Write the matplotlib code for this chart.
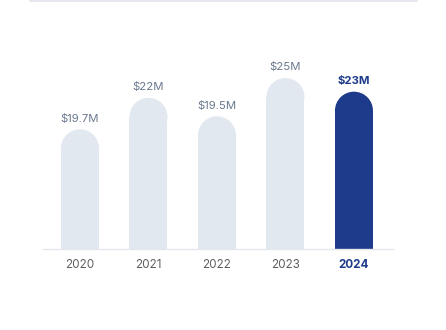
"""Revenue by year: rounded-top bar chart, last year highlighted."""

import matplotlib
matplotlib.use("Agg")
import matplotlib.pyplot as plt
from matplotlib.lines import Line2D
from matplotlib.patches import Ellipse

years = ["2020", "2021", "2022", "2023", "2024"]
# bar heights as drawn (M USD) and the labels printed above them
values = [17.5, 22.1, 19.4, 25.0, 23.0]
value_labels = ["$19.7M", "$22M", "$19.5M", "$25M", "$23M"]

LIGHT = "#e2e8f0"
NAVY = "#1e3a8a"
LABEL_GRAY = "#6b7a8f"
YEAR_GRAY = "#5f5f5f"

plt.rcParams["font.family"] = ["Inter", "DejaVu Sans"]

W, H, DPI = 446, 330, 100
fig = plt.figure(figsize=(W / DPI, H / DPI), dpi=DPI)

# axes in pixels: baseline at y=249 (from top), x from 43 to 393
left_px, right_px = 43, 393
base_px, top_px = 249, 30
ax = fig.add_axes([left_px / W, (H - base_px) / H,
                   (right_px - left_px) / W, (base_px - top_px) / H])

px_per_unit = 6.84  # pixels per $1M
ax.set_xlim(-0.54, 4.57)
ax.set_ylim(0, (base_px - top_px) / px_per_unit)

bar_w = 0.555
x_px_per_unit = (right_px - left_px) / (4.57 + 0.54)
r_units = (bar_w * x_px_per_unit / 2) / px_per_unit

colors = [LIGHT] * (len(years) - 1) + [NAVY]
for i, (v, c) in enumerate(zip(values, colors)):
    ax.bar(i, v - r_units, width=bar_w, color=c, linewidth=0)
    ax.add_patch(Ellipse((i, v - r_units), bar_w, 2 * r_units,
                         facecolor=c, linewidth=0))
    last = i == len(years) - 1
    ax.annotate(value_labels[i], (i, v), xytext=(0, 7.6),
                textcoords="offset points", ha="center", va="center",
                fontsize=8.2, color=NAVY if last else LABEL_GRAY,
                fontweight="bold" if last else "normal")

ax.set_xticks(range(len(years)))
ax.set_xticklabels(years, fontsize=8.4, color=YEAR_GRAY)
ax.tick_params(axis="x", length=0, pad=7.5)
ax.get_xticklabels()[-1].set_color(NAVY)
ax.get_xticklabels()[-1].set_fontweight("bold")
ax.set_yticks([])

for s in ("top", "left", "right"):
    ax.spines[s].set_visible(False)
ax.spines["bottom"].set_color("#e5e7eb")
ax.spines["bottom"].set_linewidth(1.0)
ax.patch.set_alpha(0)

# thin divider along the top edge
fig.add_artist(Line2D([30 / W, 417 / W], [1 - 0.8 / H] * 2,
                      color="#e2e2ec", linewidth=1.2))

fig.savefig("out.png", dpi=DPI)
